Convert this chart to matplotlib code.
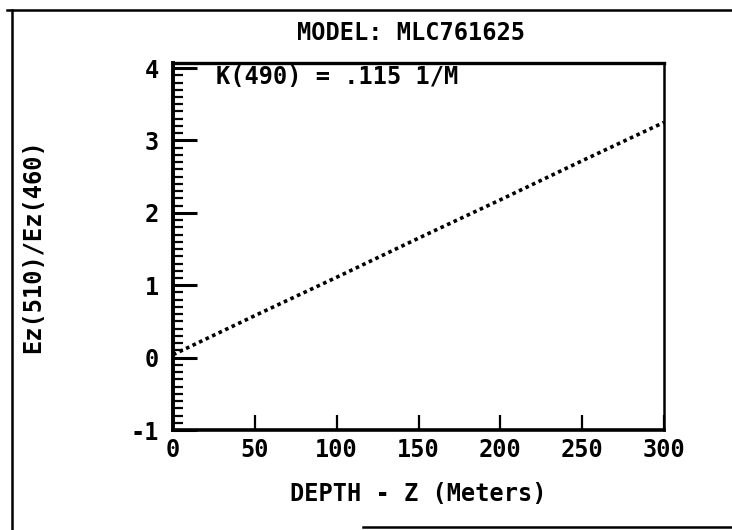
import numpy as np
import matplotlib
matplotlib.use("Agg")
import matplotlib.pyplot as plt
from matplotlib.lines import Line2D
from matplotlib.ticker import MultipleLocator

plt.rcParams["axes.unicode_minus"] = False

# Values
depth = [0, 50, 100, 150, 200, 250, 300]
ratio = [0.04, 0.58, 1.11, 1.65, 2.18, 2.72, 3.25]
xticks = [0, 50, 100, 150, 200, 250, 300]
yticks = [-1, 0, 1, 2, 3, 4]

title = "MODEL: MLC761625"
note = "K(490) = .115 1/M"
xlabel = "DEPTH - Z (Meters)"
ylabel = "Ez(510)/Ez(460)"

font = dict(family="DejaVu Sans Mono", fontweight="bold", fontsize=17)

fig = plt.figure(figsize=(7.32, 5.30), dpi=100)
ax = fig.add_axes([173 / 732, 1 - 430 / 530, 491 / 732, 367 / 530])

ax.plot(depth, ratio, color="black", linestyle=(0, (1, 1)), linewidth=2.6)

ax.set_xlim(0, 300)
ax.set_ylim(-1, 4.07)
ax.set_xticks(xticks)
ax.set_yticks(yticks)
ax.yaxis.set_minor_locator(MultipleLocator(0.1))

ax.tick_params(axis="x", direction="in", length=11, width=1.6, pad=6)
ax.tick_params(axis="y", which="major", direction="in", length=17, width=2.2, pad=10)
ax.tick_params(axis="y", which="minor", direction="in", length=7, width=1.6)
for lab in ax.get_xticklabels() + ax.get_yticklabels():
    lab.set_fontfamily("DejaVu Sans Mono")
    lab.set_fontweight("bold")
    lab.set_fontsize(17)

ax.spines["left"].set_linewidth(2.8)
ax.spines["bottom"].set_linewidth(2.6)
ax.spines["top"].set_linewidth(2.4)
ax.spines["right"].set_linewidth(1.8)

ax.set_xlabel(xlabel, labelpad=14, **font)
ax.set_ylabel(ylabel, **font)
ax.yaxis.set_label_coords((45 - 173) / 491, 0.5)
fig.text(411 / 732, 1 - 33 / 530, title, ha="center", va="center", **font)
ax.text(26, 3.88, note, ha="left", va="center", **font)

# outer frame of the scanned page
fig.add_artist(Line2D([7 / 732, 1], [1 - 10 / 530] * 2, color="black", lw=1.8))
fig.add_artist(Line2D([12 / 732] * 2, [0, 1 - 10 / 530], color="black", lw=1.8))
fig.add_artist(Line2D([363 / 732, 1], [1 - 527 / 530] * 2, color="black", lw=1.8))

fig.savefig("out.png", dpi=100, facecolor="white")
